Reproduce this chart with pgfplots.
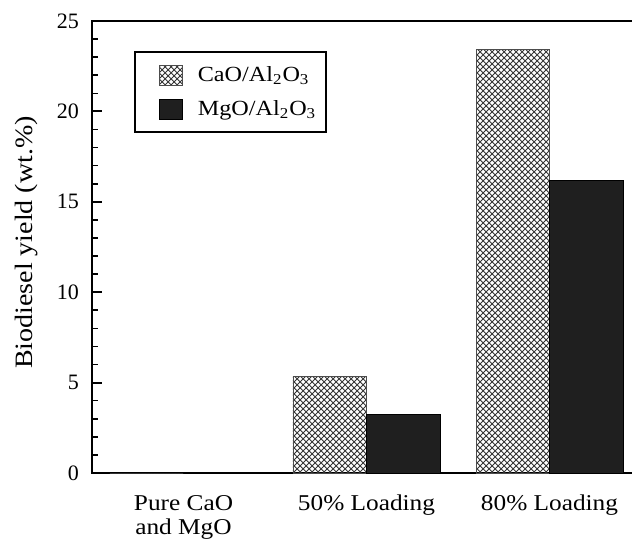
\documentclass[border=0pt]{standalone}
\usepackage{pgfplots}
\pgfplotsset{compat=1.18}
\usetikzlibrary{patterns}
\usepackage{fontspec}
\setmainfont{Liberation Serif}
\newfontfamily\widefont[FakeStretch=1.12]{Liberation Serif}
\pgfplotsset{sqlegend/.style={legend image code/.code={\draw[##1, line width=0.6pt] (9pt,-5pt) rectangle (20.5pt,5pt); \path (0pt,0pt) (26pt,0pt);}}}
\begin{document}
\begin{tikzpicture}
\useasboundingbox (0,0) rectangle (316pt,269pt);
\clip (0,0) rectangle (316pt,269pt);
\begin{axis}[
  at={(46pt,32.5pt)}, anchor=south west,
  scale only axis, width=274.5pt, height=226pt,
  xmin=-0.5, xmax=2.5, ymin=0, ymax=25,
  ybar=0pt, bar width=36.75pt,
  axis line style={line width=1.2pt},
  xtick={0,1,2},
  xticklabels={{Pure CaO\\and MgO},{50\% Loading},{80\% Loading}},
  xticklabel style={align=center, yshift=-7.5pt, font=\widefont\fontsize{11.3}{12.3}\selectfont},
  extra x ticks={0.5,1.5},
  extra x tick labels={},
  extra x tick style={major tick length=4.5pt, tick style={line width=1pt, black, draw=black}},
  xtick pos=bottom, ytick pos=left,
  tick align=inside,
  major x tick style={draw=none},
  ytick={0,5,10,15,20,25},
  minor ytick={1,2,3,4,6,7,8,9,11,12,13,14,16,17,18,19,21,22,23,24},
  major tick length=5pt,
  minor tick length=3pt,
  y tick style={line width=1pt, black},
  minor y tick style={line width=0.8pt},
  yticklabel style={xshift=-3pt, font=\fontsize{11}{13}\selectfont},
  /pgf/number format/assume math mode=true,
  ylabel={Biodiesel yield (wt.\%)},
  ylabel style={at={(axis description cs:-0.12,0.51)}, anchor=center, font=\widefont\fontsize{12.5}{15}\selectfont},
  legend style={at={(axis description cs:0.0765,0.933)}, anchor=north west,
    draw=black, line width=1pt, inner xsep=3pt, inner ysep=5pt, row sep=4pt,
    font=\widefont\fontsize{10.8}{13}\selectfont},
  legend cell align=left,
  sqlegend,
]
\addplot[draw=black!70, line width=0.4pt, pattern=crosshatch, pattern color=black!80]
  coordinates {(0,0) (1,5.33) (2,23.45)};
\addlegendentry{CaO/Al\textsubscript{2}O\textsubscript{3}}
\addplot[draw=black, line width=0.4pt, fill=black!88]
  coordinates {(0,0) (1,3.22) (2,16.2)};
\addlegendentry{MgO/Al\textsubscript{2}O\textsubscript{3}\rule[-13pt]{0pt}{1pt}}
\end{axis}
\end{tikzpicture}
\end{document}
